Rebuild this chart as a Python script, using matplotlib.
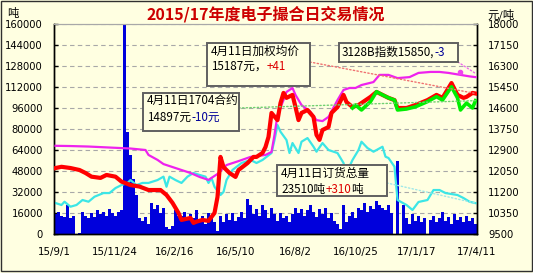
import numpy as np
import matplotlib
matplotlib.use("Agg")
import matplotlib.pyplot as plt
from matplotlib.patches import Rectangle

plt.rcParams['font.family'] = ['DejaVu Sans', 'Noto Sans CJK SC']
CJK = ['Noto Sans CJK SC', 'DejaVu Sans']

# ---------------- data ----------------
x_labels = ["15/9/1", "15/11/24", "16/2/16", "16/5/10", "16/8/2", "16/10/25", "17/1/17", "17/4/11"]

# daily traded volume (tons), left axis
volume = [15000, 17000, 14000, 13000, 22000, 12000, 14000, 0, 1000, 17000,
          14000, 12000, 16000, 13000, 18000, 15000, 17000, 14000, 19000, 16000,
          14000, 17000, 18000, 160000, 78000, 60000, 42000, 30000, 12000, 10000,
          13000, 8000, 24000, 19000, 22000, 16000, 20000, 5000, 4000, 6000,
          18000, 14000, 14000, 17000, 11000, 15000, 12000, 18000, 10000, 14000,
          8000, 16000, 12000, 9000, 2000, 14000, 9000, 15000, 11000, 16000,
          10000, 13000, 17000, 12000, 27000, 22000, 15000, 19000, 14000, 22000,
          18000, 12000, 20000, 15000, 10000, 16000, 12000, 14000, 9000, 15000,
          20000, 16000, 19000, 14000, 18000, 22000, 17000, 13000, 19000, 15000,
          20000, 12000, 16000, 10000, 8000, 4000, 22000, 9000, 14000, 17000,
          12000, 20000, 18000, 24000, 17000, 21000, 19000, 25000, 22000, 20000,
          18000, 22000, 16000, 0, 56000, 0, 22000, 12000, 8000, 15000,
          10000, 14000, 9000, 12000, 0, 11000, 14000, 9000, 12000, 17000,
          10000, 13000, 8000, 15000, 11000, 13000, 9000, 14000, 10000, 12000, 8000]

# total order quantity (tons), left axis
cyan_x = [0, 2, 3, 5, 7, 9, 11, 13, 16, 18, 20, 22, 24, 25, 27, 29, 31, 34, 36, 37,
          38, 40, 42, 44, 46, 48, 50, 51, 52, 53, 55, 56, 57, 59, 62, 65, 67, 69, 72, 73,
          74, 75, 77, 78, 79, 81, 82, 84, 86, 87, 89, 91, 94, 96, 97, 99, 101, 102, 104, 106,
          109, 110, 111, 113, 114, 117, 119, 121, 124, 126, 128, 130, 134, 136, 138, 140]
cyan_y = [23600, 22100, 24600, 20800, 22100, 25900, 24600, 28400, 31200, 31200,
          35000, 37300, 38900, 41100, 37300, 38900, 38900, 41100, 43700, 36000,
          43700, 41100, 38900, 43700, 46500, 45000, 43700, 38900, 42700, 36000,
          29700, 32000, 41100, 48800, 54100, 56400, 54100, 56400, 61700, 71600,
          83000, 77900, 71600, 61700, 69300, 61700, 70300, 73100, 66500, 62700,
          69300, 64000, 61700, 54100, 46500, 56400, 64000, 70300, 65500, 62700,
          66500, 58900, 57900, 51300, 25900, 22100, 18300, 24400, 25900, 33500,
          33500, 31200, 29700, 27400, 24600, 23510]

# weighted average price (yuan/ton), right axis
red_x = [0, 2, 5, 8, 10, 12, 15, 17, 20, 22, 25, 28, 31, 35, 37, 39, 41, 42, 45, 46,
         47, 49, 51, 53, 54, 55, 56, 58, 60, 61, 64, 66, 67, 69, 70, 71, 72, 74, 75, 76,
         77, 79, 80, 81, 82, 84, 86, 87, 88, 89, 91, 92, 94, 96, 97, 99, 101, 105, 107, 109,
         111, 113, 114, 117, 120, 124, 127, 129, 132, 134, 136, 137, 139, 140]
red_y = [12170, 12220, 12170, 12090, 11970, 11820, 11770, 11890, 11820, 11620,
         11480, 11420, 11280, 11280, 11080, 10760, 10350, 10070, 10150, 9950,
         10000, 10070, 10030, 10350, 11000, 12620, 12210, 11970, 11810, 12090,
         12370, 12620, 12620, 12780, 13020, 13430, 14400, 14110, 14800, 15210,
         15010, 15130, 14640, 14110, 14400, 14520, 14240, 13510, 13310, 13710,
         13830, 14400, 14640, 15130, 14840, 14640, 14720, 15050, 15250, 15130,
         15010, 14920, 14600, 14600, 14720, 14920, 15130, 15010, 15610, 15130,
         15010, 15050, 15210, 15187]

# 1704 contract price, right axis
green_x = [99, 100, 102, 105, 107, 109, 111, 113, 114, 117, 120, 124, 127, 129, 132, 134, 135, 137, 139, 140]
green_y = [14600, 14720, 14520, 14860, 15260, 15130, 15010, 14920, 14520, 14560,
           14650, 14860, 15060, 14920, 15460, 15010, 14520, 14800, 14600, 14897]

# 3128B index, right axis
mag_x = [0, 5, 11, 18, 25, 30, 31, 34, 36, 40, 45, 48, 51, 54, 57, 61, 65, 70, 72, 73,
         74, 76, 77, 79, 80, 82, 85, 87, 89, 91, 94, 96, 98, 100, 102, 106, 108, 111, 114, 118,
         121, 125, 128, 131, 135, 138, 140]
mag_y = [13070, 13060, 13040, 13000, 12960, 12900, 12700, 12500, 12330, 12170,
         11970, 11810, 11690, 11930, 12290, 12450, 12620, 12700, 12820, 13510,
         14320, 14920, 15250, 15410, 15130, 14720, 14440, 14110, 14070, 14240,
         14920, 15330, 15410, 15410, 15530, 15650, 15940, 15940, 15810, 15850,
         16020, 16060, 16060, 16020, 15940, 15880, 15850]

# ---------------- figure ----------------
BG = '#FFFFE1'
W, H = 533, 273
fig = plt.figure(figsize=(W / 100, H / 100), dpi=100)
fig.patch.set_facecolor(BG)

L, R, T, B = 54, 477, 24, 234
ax = fig.add_axes([L / W, (H - B) / H, (R - L) / W, (B - T) / H])
ax.set_facecolor(BG)

n = len(volume)
ax.bar(np.arange(n), volume, width=1.0, color='#0000DC', linewidth=0, zorder=2)
ax.plot(cyan_x, cyan_y, color='#3CE6E6', lw=1.6, zorder=3)

ax.set_xlim(-0.5, n - 0.5)
ax.set_ylim(0, 160000)
ax.set_yticks(np.arange(0, 160001, 16000))
ax.set_yticklabels([str(v) for v in range(0, 160001, 16000)])
ax.set_xticks(np.linspace(-0.5, n - 0.5, len(x_labels)))
ax.set_xticklabels(x_labels)
ax.yaxis.grid(True, linestyle=(0, (4, 3)), color='#A8A8A8', lw=0.8, zorder=0)
ax.set_axisbelow(True)
ax.tick_params(axis='y', direction='in', length=3, width=1, pad=8, labelsize=7.2, colors='black')
ax.tick_params(axis='x', length=0, pad=9, labelsize=7.4)

ax2 = ax.twinx()
ax2.set_ylim(9500, 18000)
rticks = np.linspace(9500, 18000, 11)
ax2.set_yticks(rticks)
ax2.set_yticklabels([str(int(v)) for v in rticks])
ax2.tick_params(axis='y', direction='in', length=3, width=1, pad=8, labelsize=7.2)

ax2.plot(mag_x, mag_y, color='#EE22EE', lw=1.6, zorder=3)
ax2.plot(red_x, red_y, color='#FF0000', lw=3.0, zorder=4)
ax2.plot(green_x, green_y, color='#00EE00', lw=2.6, zorder=5)

for a in (ax, ax2):
    for s in ('left', 'right', 'bottom'):
        a.spines[s].set_color('black')
        a.spines[s].set_linewidth(1.0)
    a.spines['top'].set_color('#A8A8A8')

# leader lines from annotation boxes to the last values
def leader(axis, xy, start, color):
    axis.annotate('', xy=xy, xytext=start, textcoords='axes fraction',
                  arrowprops=dict(arrowstyle='-', ls=':', color=color, lw=1.0,
                                  shrinkA=0, shrinkB=0), zorder=6)

leader(ax2, (red_x[-1], red_y[-1]), (0.605, 0.819), '#F07070')
leader(ax2, (green_x[-1], green_y[-1]), (0.437, 0.600), '#70D070')
leader(ax2, (mag_x[-1], mag_y[-1] + 150), (0.955, 0.819), '#EE66EE')
ax2.plot([mag_x[-3]], [mag_y[-3] + 120], marker='o', ms=3, color='#EE44EE', zorder=6)
leader(ax, (cyan_x[-1], cyan_y[-1]), (0.787, 0.243), '#A0E8E8')

# annotation boxes
def box(x0, y0, w, h):
    ax2.add_patch(Rectangle((x0, y0), w, h, transform=ax2.transAxes, facecolor=BG,
                            edgecolor='#606060', lw=1.4, zorder=10, clip_on=False))

FS = 8.4
def txt(x, y, parts):
    t = ax2.text(x, y, parts[0][0], color=parts[0][1], transform=ax2.transAxes,
                 ha='left', va='center', fontsize=FS, family=CJK, zorder=11)
    for s, c in parts[1:]:
        t = ax2.annotate(s, xy=(1, 0.5), xycoords=t, ha='left', va='center',
                         color=c, fontsize=FS, family=CJK, zorder=11)

box(0.2104, 0.4905, 0.227, 0.181)
txt(0.220, 0.633, [("4月11日1704合约", 'black')])
txt(0.220, 0.554, [("14897元", 'black'), ("-10元", '#000099')])

box(0.3617, 0.7048, 0.2435, 0.2048)
txt(0.371, 0.868, [("4月11日加权均价", 'black')])
txt(0.371, 0.797, [("15187元，", 'black'), ("+41", '#DD0000')])

box(0.6738, 0.819, 0.2813, 0.0905)
txt(0.681, 0.866, [("3128B指数15850,", 'black'), ("-3", '#000099')])

box(0.5272, 0.181, 0.26, 0.1476)
txt(0.537, 0.286, [("4月11日订货总量", 'black')])
txt(0.537, 0.214, [("23510吨", 'black'), ("+310", '#DD0000'), ("吨", 'black')])

# titles and unit labels
fig.text(266 / W, 1 - 14 / H, "2015/17年度电子撮合日交易情况", ha='center', va='center',
         fontsize=11.5, fontweight='bold', color='#CC0000', family=CJK)
fig.text(12.5 / W, 1 - 14 / H, "吨", ha='center', va='center', fontsize=8.2, family=CJK)
fig.text(501 / W, 1 - 15 / H, "元/吨", ha='center', va='center', fontsize=8.2, family=CJK)

# outer frame
fig.add_artist(Rectangle((0.5 / W, 2.5 / H), 531.5 / W, 270 / H, transform=fig.transFigure,
                         fill=False, edgecolor='#303030', lw=1.0))

fig.savefig('out.png', dpi=100, facecolor=BG)
